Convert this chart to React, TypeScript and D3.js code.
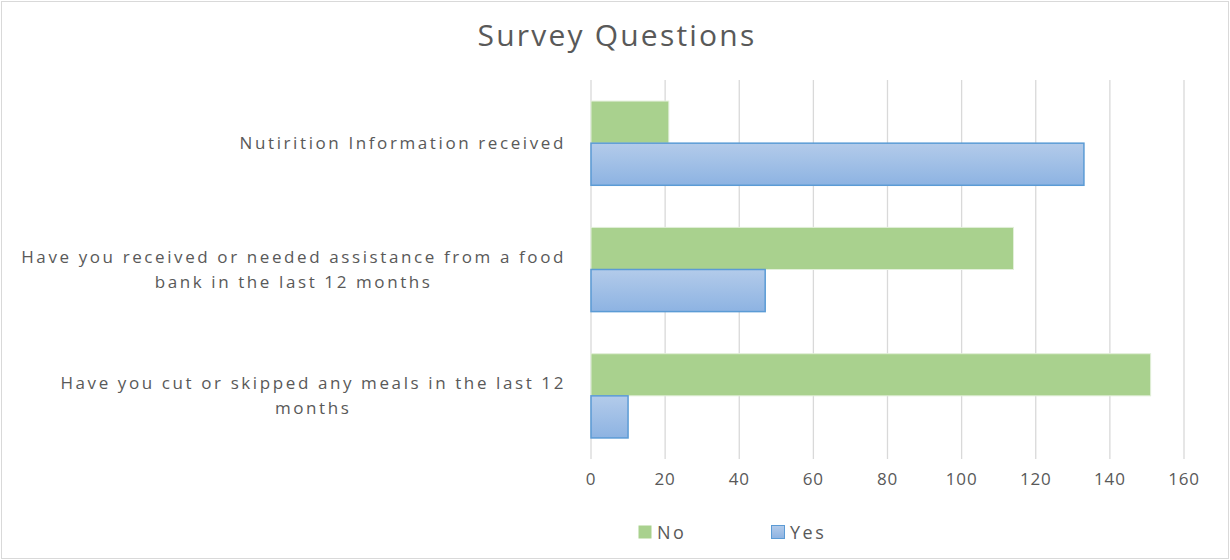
import { useRef, useEffect } from "react";
import * as d3 from "d3";

// categories, listed top to bottom as they appear on the chart
const questions: string[][] = [
  ["Nutirition Information received"],
  ["Have you received or needed assistance from a food", "bank  in the last 12 months"],
  ["Have you cut or skipped any meals in the last 12", "months"],
];
const noValues = [21, 114, 151];
const yesValues = [133, 47, 10];
const seriesNames = ["No", "Yes"];
const xTicks = [0, 20, 40, 60, 80, 100, 120, 140, 160];

const FONT = "'Open Sans', 'Liberation Sans', sans-serif";
const GREY = "#595959";

const SurveyChart = () => {
  const ref = useRef<SVGSVGElement>(null);

  useEffect(() => {
    if (!ref.current) return;
    const svg = d3.select(ref.current);
    svg.selectAll("*").remove();

    const width = 1230;
    const height = 560;
    const plot = { left: 591, right: 1184, top: 80, bottom: 459 };

    // gradient for the "Yes" bars
    const defs = svg.append("defs");
    const grad = defs
      .append("linearGradient")
      .attr("id", "yesGrad")
      .attr("x1", 0)
      .attr("y1", 0)
      .attr("x2", 0)
      .attr("y2", 1);
    grad.append("stop").attr("offset", "0%").attr("stop-color", "#b3cbea");
    grad.append("stop").attr("offset", "100%").attr("stop-color", "#8db3e2");

    // chart border
    svg
      .append("rect")
      .attr("x", 1.5)
      .attr("y", 1.5)
      .attr("width", width - 3)
      .attr("height", height - 3)
      .attr("fill", "#fff")
      .attr("stroke", "#d9d9d9");

    svg
      .append("text")
      .attr("x", 617)
      .attr("y", 46)
      .attr("text-anchor", "middle")
      .attr("font-family", FONT)
      .attr("font-size", 30)
      .attr("letter-spacing", 2.2)
      .attr("fill", GREY)
      .text("Survey Questions");

    const x = d3.scaleLinear().domain([0, 160]).range([plot.left, plot.right]);
    const y0 = d3
      .scaleBand<number>()
      .domain(d3.range(questions.length))
      .range([plot.top, plot.bottom])
      .paddingInner(1 / 3)
      .paddingOuter(1 / 6);
    const y1 = d3.scaleBand<string>().domain(seriesNames).range([0, y0.bandwidth()]);

    // gridlines
    svg
      .append("g")
      .selectAll("line")
      .data(xTicks)
      .join("line")
      .attr("x1", (d) => x(d))
      .attr("x2", (d) => x(d))
      .attr("y1", plot.top)
      .attr("y2", plot.bottom)
      .attr("stroke", "#d9d9d9")
      .attr("stroke-width", 1.3);

    // tick labels
    svg
      .append("g")
      .selectAll("text")
      .data(xTicks)
      .join("text")
      .attr("x", (d) => x(d))
      .attr("y", 485)
      .attr("text-anchor", "middle")
      .attr("font-family", FONT)
      .attr("font-size", 17)
      .attr("letter-spacing", 0.8)
      .attr("fill", GREY)
      .text((d) => d);

    const groups = svg
      .append("g")
      .selectAll("g")
      .data(questions.map((q, i) => ({ i, no: noValues[i], yes: yesValues[i] })))
      .join("g")
      .attr("transform", (d) => `translate(0,${y0(d.i)})`);

    groups
      .append("rect")
      .attr("x", x(0))
      .attr("y", y1("No")!)
      .attr("width", (d) => x(d.no) - x(0))
      .attr("height", y1.bandwidth())
      .attr("fill", "#a9d18e")
      .attr("stroke", "#e2efd9")
      .attr("stroke-width", 1);

    groups
      .append("rect")
      .attr("x", x(0))
      .attr("y", y1("Yes")!)
      .attr("width", (d) => x(d.yes) - x(0))
      .attr("height", y1.bandwidth())
      .attr("fill", "url(#yesGrad)")
      .attr("stroke", "#5b9bd5")
      .attr("stroke-width", 1.5);

    // category labels, right aligned, wrapped lines centred under the first
    const labelRight = 566;
    questions.forEach((lines, i) => {
      const cy = y0(i)! + y0.bandwidth() / 2;
      const lh = 25;
      const startY = cy - ((lines.length - 1) * lh) / 2 + 6;
      const g = svg.append("g");
      const first = g
        .append("text")
        .attr("x", labelRight)
        .attr("y", startY)
        .attr("text-anchor", "end")
        .attr("font-family", FONT)
        .attr("font-size", 17)
        .attr("letter-spacing", 2.6)
        .attr("fill", GREY)
        .text(lines[0]);
      const w = (first.node() as SVGTextElement).getComputedTextLength();
      lines.slice(1).forEach((line, j) => {
        g.append("text")
          .attr("x", labelRight - w / 2)
          .attr("y", startY + (j + 1) * lh)
          .attr("text-anchor", "middle")
          .attr("font-family", FONT)
          .attr("font-size", 17)
          .attr("letter-spacing", 2.6)
          .attr("fill", GREY)
          .text(line);
      });
    });

    // legend
    const legend = svg
      .append("g")
      .selectAll("g")
      .data(seriesNames)
      .join("g")
      .attr("transform", (d, i) => `translate(${638 + i * 133},525)`);
    legend
      .append("rect")
      .attr("x", 0.5)
      .attr("y", 0.5)
      .attr("width", 13)
      .attr("height", 13)
      .attr("fill", (d) => (d === "No" ? "#a9d18e" : "url(#yesGrad)"))
      .attr("stroke", (d) => (d === "No" ? "none" : "#5b9bd5"));
    legend
      .append("text")
      .attr("x", 19)
      .attr("y", 14)
      .attr("font-family", FONT)
      .attr("font-size", 18)
      .attr("letter-spacing", 2.5)
      .attr("fill", GREY)
      .text((d) => d);
  }, []);

  return (
    <svg
      ref={ref}
      width={1230}
      height={560}
      style={{ position: "absolute", left: 0, top: 0 }}
    />
  );
};

export default function App() {
  return <SurveyChart />;
}
